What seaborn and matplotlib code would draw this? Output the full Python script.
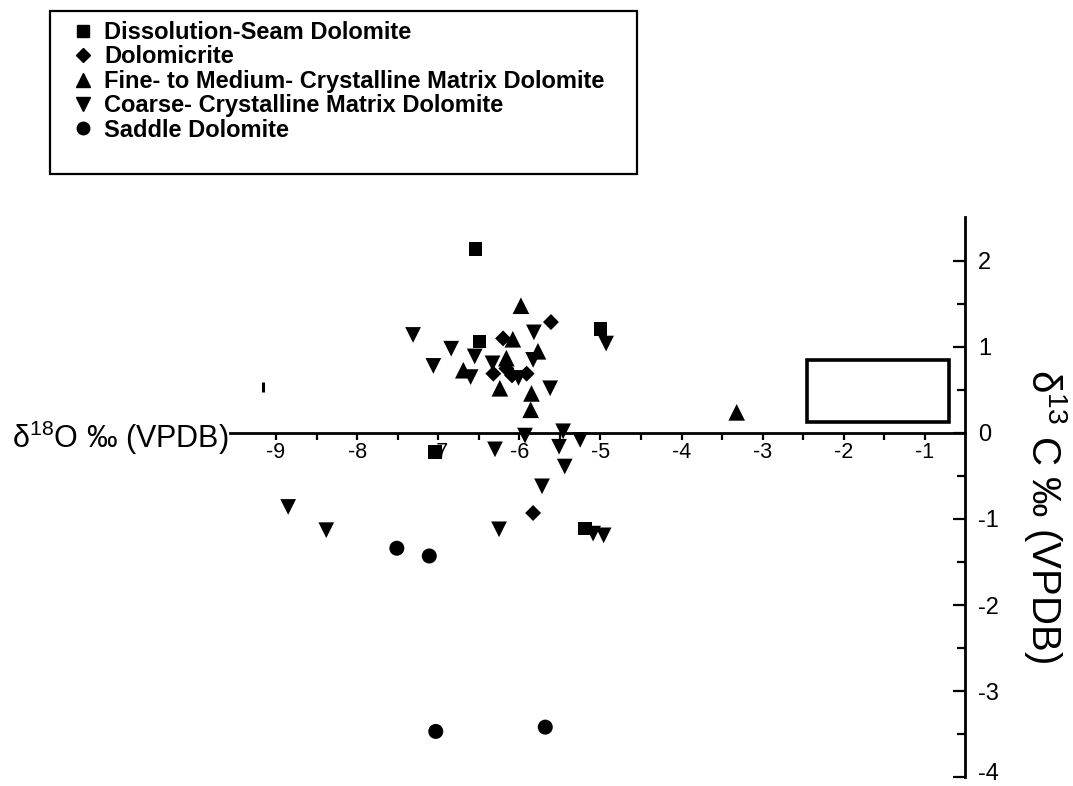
import pandas as pd
import matplotlib.pyplot as plt
import matplotlib.transforms as mtransforms
import seaborn as sns
from matplotlib.lines import Line2D
from matplotlib.patches import Rectangle

# d18O / d13C values
seam_x = [-6.54, -6.49, -5.00, -7.04, -5.19]
seam_y = [2.14, 1.06, 1.21, -0.22, -1.11]

micrite_x = [-5.61, -6.20, -6.32, -6.16, -5.91, -5.83, -6.09]
micrite_y = [1.29, 1.10, 0.69, 0.75, 0.69, -0.93, 0.67]

fine_x = [-5.98, -6.08, -6.69, -6.16, -6.24, -5.77, -5.85, -5.86, -3.32]
fine_y = [1.48, 1.09, 0.73, 0.87, 0.52, 0.95, 0.46, 0.27, 0.24]

coarse_x = [-7.31, -5.82, -4.93, -6.84, -6.55, -7.06, -6.60, -6.33, -6.01, -5.83,
            -5.62, -5.93, -5.46, -5.25, -5.51, -6.30, -5.44, -5.72, -8.85, -8.38,
            -6.25, -5.09, -4.96]
coarse_y = [1.14, 1.17, 1.04, 0.98, 0.89, 0.78, 0.65, 0.81, 0.64, 0.85,
            0.52, -0.03, 0.02, -0.08, -0.16, -0.19, -0.39, -0.62, -0.86, -1.13,
            -1.12, -1.17, -1.19]

saddle_x = [-7.51, -7.11, -7.03, -5.68]
saddle_y = [-1.34, -1.43, -3.47, -3.42]

stray_x = [-9.16]
stray_y = [0.54]

# reference box (x from, x to, y from, y to)
box_x = [-2.45, -0.70]
box_y = [0.13, 0.85]

labels = ["Dissolution-Seam Dolomite", "Dolomicrite",
          "Fine- to Medium- Crystalline Matrix Dolomite",
          "Coarse- Crystalline Matrix Dolomite", "Saddle Dolomite"]
markers = {labels[0]: "s", labels[1]: "D", labels[2]: "^", labels[3]: "v", labels[4]: "o"}
sizes = {labels[0]: 92, labels[1]: 66, labels[2]: 144, labels[3]: 128, labels[4]: 117}

xs = [seam_x, micrite_x, fine_x, coarse_x, saddle_x]
ys = [seam_y, micrite_y, fine_y, coarse_y, saddle_y]
df = pd.concat([pd.DataFrame({"d18O": x, "d13C": y, "type": lab})
                for x, y, lab in zip(xs, ys, labels)], ignore_index=True)

sns.set_style("white")
plt.rcParams["font.family"] = ["Liberation Sans", "DejaVu Sans"]
plt.rcParams["mathtext.fontset"] = "custom"
plt.rcParams["mathtext.rm"] = "Liberation Sans"
plt.rcParams["mathtext.it"] = "Liberation Sans"
plt.rcParams["text.color"] = "black"
plt.rcParams["xtick.color"] = "black"
plt.rcParams["ytick.color"] = "black"
plt.rcParams["axes.labelcolor"] = "black"

fig = plt.figure(figsize=(10.73, 7.86), dpi=100)
ax = fig.add_axes([0.2043, 0.0005, 0.7181, 0.7331])

for lab in labels:
    sub = df[df["type"] == lab]
    sns.scatterplot(data=sub, x="d18O", y="d13C", marker=markers[lab], s=sizes[lab],
                    color="black", edgecolor="none", linewidth=0, ax=ax, legend=False, zorder=3)

ax.plot(stray_x, stray_y, marker="|", markersize=7, mew=2.2, color="black", ls="none")

ax.add_patch(Rectangle((box_x[0], box_y[0]), box_x[1] - box_x[0], box_y[1] - box_y[0],
                       fill=False, edgecolor="black", linewidth=2.6, zorder=2))

ax.set_xlim(-9.7, -0.2)
ax.set_ylim(-4.1, 2.6)

# crossed axes
for s in ["top", "left"]:
    ax.spines[s].set_visible(False)
ax.spines["bottom"].set_position(("data", 0))
ax.spines["bottom"].set_bounds(-9.57, -0.50)
ax.spines["right"].set_position(("data", -0.50))
ax.spines["right"].set_bounds(-4.0, 2.51)
for s in ["bottom", "right"]:
    ax.spines[s].set_linewidth(2)
    ax.spines[s].set_color("black")

ax.set_xticks([-9, -8, -7, -6, -5, -4, -3, -2, -1])
ax.set_xticks([-8.5, -7.5, -6.5, -5.5, -4.5, -3.5, -2.5, -1.5], minor=True)
ax.set_xticklabels(["-9", "-8", "-7", "-6", "-5", "-4", "-3", "-2", "-1"])
ax.set_yticks([-4, -3, -2, -1, 0, 1, 2])
ax.set_yticks([-3.5, -2.5, -1.5, -0.5, 0.5, 1.5], minor=True)
ax.set_yticklabels(["-4", "-3", "-2", "-1", "0", "1", "2"])
ax.yaxis.tick_right()
ax.tick_params(axis="x", which="both", direction="out", length=5, width=1.6,
               labelsize=15.5, pad=1.5, bottom=True)
ax.tick_params(axis="y", which="major", direction="in", length=8.5, width=1.6,
               labelsize=17, pad=9, right=True, left=False)
ax.tick_params(axis="y", which="minor", direction="in", length=6, width=1.6,
               right=True, left=False)
ax.set_xlabel("")
ax.set_ylabel("")

# nudge the bottom label so it stays inside the figure
lowest = ax.get_yticklabels()[0]
lowest.set_transform(lowest.get_transform() +
                     mtransforms.ScaledTranslation(0, 4 / 72, fig.dpi_scale_trans))

ax.text(-9.59, -0.06, r"$\mathregular{\delta^{18}}$O ‰ (VPDB)", fontsize=22,
        ha="right", va="center")
fig.text(1045 / 1073, 1 - 516 / 786, r"$\mathregular{\delta^{13}}$ C ‰ (VPDB)", fontsize=29,
         rotation=270, ha="center", va="center")

handles = [Line2D([], [], marker=markers[labels[0]], color="black", ls="none", markersize=8),
           Line2D([], [], marker=markers[labels[1]], color="black", ls="none", markersize=7.5),
           Line2D([], [], marker=markers[labels[2]], color="black", ls="none", markersize=10),
           Line2D([], [], marker=markers[labels[3]], color="black", ls="none", markersize=10),
           Line2D([], [], marker=markers[labels[4]], color="black", ls="none", markersize=9)]
fig.legend(handles, labels, loc="upper left", bbox_to_anchor=(73.6 / 1073, 1 - 21 / 786),
           frameon=False, prop={"weight": "bold", "size": 17}, borderpad=0,
           borderaxespad=0, handlelength=0.8, handletextpad=0.5, labelspacing=0.06)
fig.patches.append(Rectangle((50 / 1073, 1 - 174 / 786), 587 / 1073, 163 / 786,
                             transform=fig.transFigure, fill=False, edgecolor="black",
                             linewidth=1.6))

fig.savefig("out.png", dpi=100)
